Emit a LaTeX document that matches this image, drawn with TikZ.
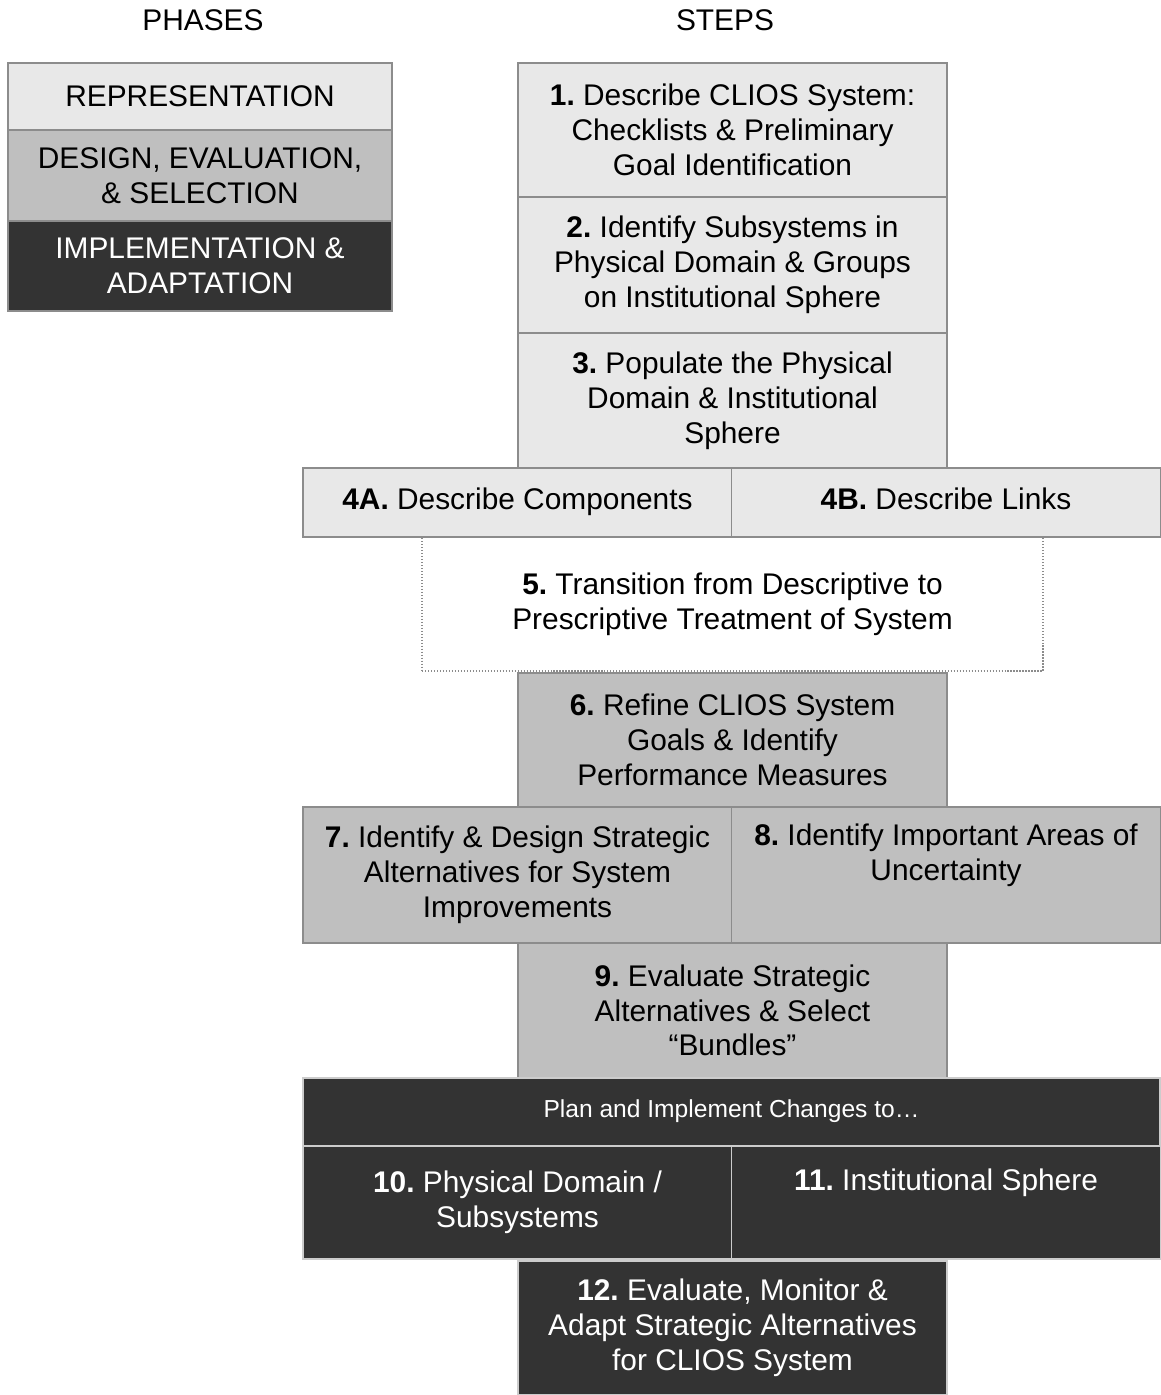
\documentclass[tikz,border=0pt]{standalone}
\usepackage{fontspec}
\setmainfont{Liberation Sans}
\frenchspacing
\definecolor{lightfill}{HTML}{E8E8E8}
\definecolor{midfill}{HTML}{BFBFBF}
\definecolor{darkfill}{HTML}{333333}
\definecolor{edgegray}{HTML}{8C8C8C}
\begin{document}
\begin{tikzpicture}[x=0.02cm,y=-0.02cm,
  every node/.style={font=\fontsize{17}{19.8}\selectfont, align=center, inner sep=0pt},
  box/.style={rectangle, draw=edgegray, line width=1pt},
  light/.style={box, fill=lightfill},
  mid/.style={box, fill=midfill},
  dark/.style={box, fill=darkfill, text=white},
  darkstep/.style={dark, draw=white!80!black},
  dotbox/.style={rectangle, draw=edgegray, densely dotted, line width=0.7pt, fill=white},
  phase/.style={minimum width=7.68cm},
  full/.style={minimum width=8.58cm},
  half/.style={minimum width=8.58cm}]
\useasboundingbox (0,0) rectangle (1160,1395);
% headings
\node (phases) at (203,20) {PHASES};
\node (steps) at (725,20) {STEPS};
% phases
\node[light,phase,minimum height=1.34cm] (rep) at (200,96.5) {REPRESENTATION};
\node[mid,phase,minimum height=1.82cm] (des) at (200,175.5) {DESIGN, EVALUATION,\\ \& SELECTION};
\node[dark,phase,minimum height=1.8cm] (imp) at (200,266) {IMPLEMENTATION \&\\ ADAPTATION};
% representation steps
\node[light,full,minimum height=2.68cm] (s1) at (732.5,130) {\textbf{1.} Describe CLIOS System:\\ Checklists \& Preliminary\\ Goal Identification};
\node[light,full,minimum height=2.72cm] (s2) at (732.5,265) {\textbf{2.} Identify Subsystems in\\ Physical Domain \& Groups\\ on Institutional Sphere};
\node[light,full,minimum height=2.7cm] (s3) at (732.5,400.5) {\textbf{3.} Populate the Physical\\ Domain \& Institutional\\ Sphere};
\node[dotbox,minimum width=12.42cm,minimum height=2.68cm] (s5) at (732.5,604) {\textbf{5.} Transition from Descriptive to\\ Prescriptive Treatment of System};
\node[light,half,minimum height=1.38cm] (s4a) at (517.5,502.5) {\textbf{4A.} Describe Components\strut};
\node[light,half,minimum height=1.38cm] (s4b) at (946,502.5) {\textbf{4B.} Describe Links\strut};
% design, evaluation, selection steps
\node[mid,full,minimum height=2.68cm] (s6) at (732.5,740) {\textbf{6.} Refine CLIOS System\\ Goals \& Identify\\ Performance Measures};
\node[mid,half,minimum height=2.72cm] (s7) at (517.5,875) {\textbf{7.} Identify \& Design Strategic\\ Alternatives for System\\ Improvements};
\node[mid,half,minimum height=2.72cm] (s8) at (946,875) {\textbf{8.} Identify Important Areas of\\ Uncertainty\\ \strut};
\node[mid,full,minimum height=2.7cm] (s9) at (732.5,1010.5) {\textbf{9.} Evaluate Strategic\\ Alternatives \& Select\\ ``Bundles''};
% implementation steps
\node[darkstep,minimum width=17.14cm,minimum height=1.36cm,font=\fontsize{14}{16}\selectfont] (plan) at (731.5,1112) {Plan and Implement Changes to\dots\strut};
\node[darkstep,half,minimum height=2.26cm] (s10) at (517.5,1202.5) {\textbf{10.} Physical Domain /\\ Subsystems};
\node[darkstep,half,minimum height=2.26cm] (s11) at (946,1202.5) {\textbf{11.} Institutional Sphere\\ \strut};
\node[darkstep,full,minimum height=2.68cm] (s12) at (732.5,1328) {\textbf{12.} Evaluate, Monitor \&\\ Adapt Strategic Alternatives\\ for CLIOS System};
\end{tikzpicture}
\end{document}
